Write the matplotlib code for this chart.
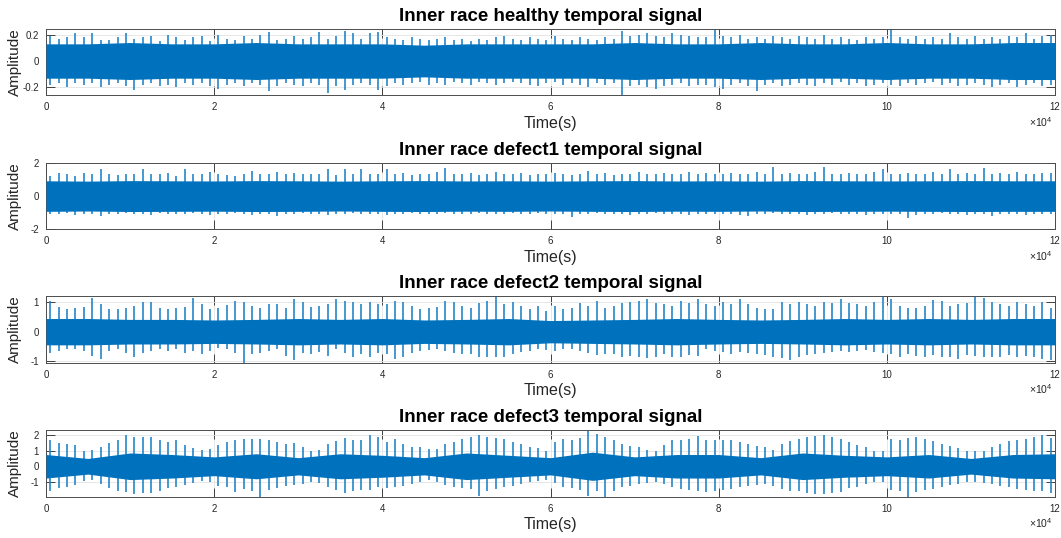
import matplotlib
matplotlib.use("Agg")
import matplotlib.pyplot as plt
import numpy as np

plt.rcParams["font.family"] = ["Liberation Sans", "DejaVu Sans"]
plt.rcParams["mathtext.default"] = "regular"

# per-bin (1000 samples) peak values, 120 bins per signal
hi_healthy = [
    0.19, 0.17, 0.18, 0.21, 0.18, 0.21, 0.16, 0.16, 0.18, 0.21,
    0.17, 0.18, 0.19, 0.15, 0.20, 0.18, 0.16, 0.18, 0.19, 0.15,
    0.20, 0.17, 0.16, 0.19, 0.17, 0.20, 0.22, 0.16, 0.17, 0.19,
    0.17, 0.18, 0.22, 0.17, 0.19, 0.23, 0.21, 0.17, 0.21, 0.22,
    0.18, 0.17, 0.16, 0.18, 0.17, 0.16, 0.17, 0.18, 0.16, 0.17,
    0.15, 0.17, 0.16, 0.18, 0.19, 0.17, 0.16, 0.18, 0.17, 0.16,
    0.19, 0.17, 0.16, 0.18, 0.17, 0.16, 0.18, 0.17, 0.23, 0.19,
    0.20, 0.21, 0.19, 0.18, 0.21, 0.20, 0.19, 0.18, 0.18, 0.24,
    0.19, 0.18, 0.20, 0.17, 0.18, 0.17, 0.19, 0.18, 0.17, 0.19,
    0.18, 0.17, 0.20, 0.17, 0.18, 0.17, 0.16, 0.18, 0.17, 0.18,
    0.24, 0.18, 0.17, 0.19, 0.17, 0.18, 0.17, 0.21, 0.18, 0.17,
    0.19, 0.17, 0.18, 0.17, 0.19, 0.18, 0.21, 0.17, 0.19, 0.20,
]
lo_healthy = [
    -0.18, -0.17, -0.20, -0.17, -0.18, -0.17, -0.20, -0.18, -0.17, -0.19,
    -0.22, -0.18, -0.17, -0.19, -0.18, -0.20, -0.17, -0.18, -0.17, -0.19,
    -0.21, -0.18, -0.17, -0.19, -0.17, -0.18, -0.23, -0.19, -0.17, -0.18,
    -0.19, -0.17, -0.18, -0.24, -0.19, -0.22, -0.18, -0.17, -0.18, -0.22,
    -0.19, -0.17, -0.18, -0.17, -0.16, -0.18, -0.17, -0.18, -0.16, -0.17,
    -0.18, -0.16, -0.17, -0.18, -0.17, -0.16, -0.17, -0.18, -0.19, -0.17,
    -0.16, -0.18, -0.17, -0.18, -0.20, -0.17, -0.18, -0.17, -0.26, -0.19,
    -0.18, -0.20, -0.21, -0.19, -0.18, -0.17, -0.19, -0.18, -0.18, -0.20,
    -0.21, -0.18, -0.17, -0.19, -0.23, -0.18, -0.17, -0.19, -0.18, -0.17,
    -0.18, -0.19, -0.17, -0.18, -0.16, -0.18, -0.17, -0.19, -0.18, -0.17,
    -0.18, -0.19, -0.17, -0.18, -0.17, -0.16, -0.18, -0.17, -0.19, -0.18,
    -0.17, -0.18, -0.20, -0.18, -0.17, -0.20, -0.18, -0.17, -0.19, -0.18,
]
hi_defect1 = [
    1.20, 1.40, 1.30, 1.20, 1.40, 1.30, 1.60, 1.30, 1.25, 1.35,
    1.30, 1.64, 1.30, 1.35, 1.40, 1.20, 1.60, 1.30, 1.35, 1.45,
    1.30, 1.25, 1.20, 1.30, 1.50, 1.35, 1.30, 1.45, 1.30, 1.40,
    1.30, 1.35, 1.35, 1.64, 1.25, 1.60, 1.30, 1.65, 1.30, 1.35,
    1.66, 1.30, 1.40, 1.25, 1.35, 1.30, 1.45, 1.70, 1.30, 1.35,
    1.40, 1.25, 1.30, 1.45, 1.35, 1.30, 1.40, 1.25, 1.35, 1.30,
    1.40, 1.30, 1.25, 1.35, 1.50, 1.30, 1.40, 1.25, 1.35, 1.30,
    1.45, 1.35, 1.30, 1.40, 1.30, 1.35, 1.45, 1.30, 1.40, 1.35,
    1.30, 1.40, 1.35, 1.30, 1.45, 1.35, 1.76, 1.30, 1.40, 1.35,
    1.30, 1.45, 1.76, 1.35, 1.30, 1.40, 1.35, 1.30, 1.45, 1.60,
    1.35, 1.30, 1.40, 1.35, 1.30, 1.45, 1.35, 1.60, 1.30, 1.40,
    1.35, 1.70, 1.30, 1.40, 1.35, 1.45, 1.30, 1.35, 1.40, 1.40,
]
lo_defect1 = [
    -1.05, -1.10, -1.00, -1.15, -1.05, -1.10, -1.20, -1.05, -1.10, -1.00,
    -1.10, -1.05, -1.15, -1.00, -1.10, -1.05, -1.10, -1.00, -1.05, -1.15,
    -1.05, -1.10, -1.00, -1.05, -1.15, -1.10, -1.05, -1.20, -1.10, -1.05,
    -1.00, -1.10, -1.05, -1.15, -1.05, -1.10, -1.00, -1.05, -1.10, -1.05,
    -1.15, -1.05, -1.10, -1.00, -1.05, -1.10, -1.05, -1.00, -1.10, -1.05,
    -1.10, -1.00, -1.05, -1.10, -1.05, -1.00, -1.10, -1.05, -1.00, -1.05,
    -1.10, -1.05, -1.25, -1.05, -1.10, -1.00, -1.05, -1.10, -1.05, -1.15,
    -1.05, -1.10, -1.00, -1.05, -1.10, -1.05, -1.15, -1.05, -1.10, -1.05,
    -1.10, -1.05, -1.15, -1.20, -1.05, -1.10, -1.00, -1.05, -1.10, -1.05,
    -1.15, -1.05, -1.10, -1.00, -1.05, -1.10, -1.05, -1.15, -1.10, -1.05,
    -1.10, -1.05, -1.30, -1.15, -1.10, -1.05, -1.00, -1.10, -1.05, -1.15,
    -1.10, -1.05, -1.20, -1.05, -1.10, -1.05, -1.15, -1.10, -1.05, -1.10,
]
hi_defect2 = [
    1.05, 0.85, 0.78, 0.82, 0.85, 1.16, 0.93, 0.76, 0.78, 0.82,
    0.88, 1.02, 1.02, 0.82, 0.78, 0.82, 0.85, 1.14, 0.93, 0.78,
    0.82, 0.90, 1.05, 1.02, 0.88, 0.82, 0.93, 0.93, 0.82, 1.10,
    1.02, 0.85, 0.88, 0.93, 1.10, 1.05, 1.00, 0.95, 1.00, 0.93,
    0.95, 1.05, 1.00, 0.88, 0.78, 0.82, 0.85, 1.05, 1.00, 0.88,
    0.82, 0.98, 1.05, 1.21, 0.93, 1.00, 0.88, 0.76, 0.88, 0.70,
    0.88, 0.78, 0.82, 0.98, 0.88, 1.05, 0.82, 0.88, 0.98, 1.00,
    1.05, 1.10, 0.98, 0.93, 0.88, 1.05, 0.98, 1.10, 0.93, 0.88,
    1.00, 0.93, 1.10, 0.93, 0.82, 0.78, 0.76, 1.00, 0.93, 1.00,
    0.93, 0.88, 1.00, 0.98, 1.12, 0.98, 0.93, 0.88, 1.00, 1.18,
    1.10, 0.88, 0.82, 0.82, 0.88, 1.08, 1.05, 0.88, 0.93, 0.98,
    1.19, 1.15, 1.00, 0.93, 0.88, 1.00, 0.93, 0.88, 1.00, 0.82,
]
lo_defect2 = [
    -0.72, -0.66, -0.60, -0.60, -0.66, -0.83, -0.92, -0.66, -0.60, -0.72,
    -0.85, -0.72, -0.66, -0.60, -0.66, -0.58, -0.72, -0.66, -0.77, -0.66,
    -0.55, -0.60, -0.74, -1.06, -0.77, -0.72, -0.66, -0.60, -0.83, -0.97,
    -0.72, -0.77, -0.70, -0.83, -0.60, -0.72, -0.85, -0.77, -0.85, -0.72,
    -0.77, -0.92, -0.85, -0.72, -0.66, -0.62, -0.60, -0.66, -0.72, -0.77,
    -0.75, -0.85, -0.88, -0.85, -0.85, -0.77, -0.70, -0.66, -0.60, -0.62,
    -0.66, -0.60, -0.58, -0.66, -0.72, -0.80, -0.77, -0.75, -0.85, -0.82,
    -0.88, -0.90, -0.85, -0.77, -0.85, -0.88, -0.80, -0.82, -0.60, -0.66,
    -0.70, -0.77, -0.70, -0.72, -0.77, -0.80, -0.85, -0.90, -0.97, -0.88,
    -0.80, -0.77, -0.72, -0.70, -0.66, -0.70, -0.66, -0.62, -0.70, -0.72,
    -0.77, -0.85, -0.77, -0.82, -0.85, -0.80, -0.85, -0.88, -0.92, -0.80,
    -0.82, -0.85, -0.88, -0.85, -0.80, -0.85, -0.82, -0.88, -0.94, -0.97,
]
hi_defect3 = [
    1.65, 1.48, 1.40, 1.33, 1.00, 1.05, 1.20, 1.48, 1.70, 1.97,
    1.90, 1.85, 1.90, 1.70, 1.55, 1.65, 1.33, 1.15, 1.06, 1.10,
    1.33, 1.55, 1.70, 1.75, 1.75, 1.75, 1.65, 1.55, 1.40, 1.48,
    1.20, 1.00, 1.06, 1.40, 1.60, 1.80, 1.70, 1.65, 1.97, 1.85,
    1.55, 1.75, 1.40, 1.25, 1.25, 1.10, 1.12, 1.40, 1.55, 1.75,
    1.85, 1.97, 1.90, 1.80, 1.75, 1.55, 1.45, 1.25, 1.15, 1.00,
    1.55, 1.75, 1.70, 1.80, 2.24, 2.05, 1.85, 1.65, 1.45, 1.30,
    1.25, 1.05, 1.00, 1.35, 1.65, 1.70, 1.75, 1.95, 1.65, 1.70,
    1.65, 1.70, 1.55, 1.45, 1.30, 1.20, 1.05, 1.45, 1.60, 1.75,
    1.90, 1.95, 2.00, 1.86, 1.75, 1.55, 1.35, 1.20, 1.00, 0.95,
    1.75, 1.70, 1.80, 1.86, 1.75, 1.60, 1.45, 1.30, 1.15, 1.00,
    0.95, 1.00, 1.25, 1.40, 1.60, 1.65, 1.75, 1.85, 1.97, 1.80,
]
lo_defect3 = [
    -1.56, -1.40, -1.30, -1.20, -0.95, -0.90, -1.10, -1.40, -1.55, -1.63,
    -1.78, -1.70, -1.73, -1.55, -1.40, -1.30, -1.20, -1.05, -0.95, -0.98,
    -1.25, -1.35, -1.63, -1.45, -1.55, -1.94, -1.50, -1.40, -1.25, -1.20,
    -1.10, -0.98, -1.05, -1.35, -1.50, -1.73, -1.56, -1.50, -1.50, -1.35,
    -1.40, -1.30, -1.25, -1.10, -1.00, -0.90, -1.00, -1.20, -1.30, -1.40,
    -1.45, -1.90, -1.55, -1.45, -1.35, -1.25, -1.10, -1.00, -0.95, -0.90,
    -1.05, -1.35, -1.40, -1.50, -1.90, -1.60, -1.94, -1.55, -1.35, -1.25,
    -1.10, -1.05, -1.00, -1.10, -1.35, -1.45, -1.50, -1.55, -1.63, -1.55,
    -1.50, -1.45, -1.35, -1.25, -1.20, -1.10, -1.25, -1.45, -1.55, -1.60,
    -1.70, -1.75, -1.80, -1.73, -1.63, -1.40, -1.30, -1.10, -1.00, -1.00,
    -1.50, -1.55, -1.94, -1.63, -1.50, -1.45, -1.35, -1.20, -1.10, -1.00,
    -0.98, -1.05, -1.15, -1.25, -1.35, -1.45, -1.50, -1.55, -1.60, -1.73,
]

# half-width of the dense core of each signal, read every 5000 samples
core_healthy = [0.13, 0.13, 0.14, 0.13, 0.13, 0.14, 0.13, 0.13, 0.13, 0.12, 0.13, 0.13, 0.13,
                0.13, 0.14, 0.13, 0.13, 0.14, 0.13, 0.13, 0.14, 0.13, 0.13, 0.14, 0.14]
core_defect1 = [0.92, 0.90, 0.93, 0.92, 0.91, 0.93, 0.92, 0.90, 0.92, 0.93, 0.91, 0.92, 0.90,
                0.92, 0.93, 0.91, 0.92, 0.90, 0.93, 0.92, 0.91, 0.92, 0.93, 0.92, 0.92]
core_defect2 = [0.45, 0.45, 0.42, 0.42, 0.40, 0.42, 0.45, 0.42, 0.45, 0.40, 0.42, 0.45, 0.38,
                0.40, 0.42, 0.45, 0.42, 0.40, 0.42, 0.45, 0.42, 0.45, 0.42, 0.45, 0.45]
core_defect3 = [0.75, 0.50, 0.85, 0.75, 0.60, 0.80, 0.55, 0.80, 0.70, 0.55, 0.85, 0.70, 0.55,
                0.90, 0.60, 0.75, 0.75, 0.55, 0.85, 0.70, 0.60, 0.75, 0.50, 0.75, 0.80]

titles = [
    "Inner race healthy temporal signal",
    "Inner race defect1 temporal signal",
    "Inner race defect2 temporal signal",
    "Inner race defect3 temporal signal",
]
ylims = [(-0.261, 0.242), (-2, 2), (-1.06, 1.21), (-1.94, 2.3)]
yticks = [[-0.2, 0, 0.2], [-2, 0, 2], [-1, 0, 1], [-1, 0, 1, 2]]
ytick_labels = [["-0.2", "0", "0.2"], ["-2", "0", "2"], ["-1", "0", "1"], ["-1", "0", "1", "2"]]
xtick_labels = ["0", "2", "4", "6", "8", "10", "12"]

signals = [
    (hi_healthy, lo_healthy, core_healthy),
    (hi_defect1, lo_defect1, core_defect1),
    (hi_defect2, lo_defect2, core_defect2),
    (hi_defect3, lo_defect3, core_defect3),
]

BLUE = "#0072BD"
SPIKE = "#2586cb"
DARK = "#262626"

fig = plt.figure(figsize=(10.61, 5.38), dpi=100)
bottoms = [0.8225, 0.5738, 0.3258, 0.0768]

for i, (hi, lo, core) in enumerate(signals):
    ax = fig.add_axes([0.0434, bottoms[i], 0.951, 0.1235])
    bins = (np.arange(len(hi)) + 0.5) * 1000
    xc = np.arange(len(core)) * 5000
    core = np.array(core)
    ax.vlines(bins, lo, hi, color=SPIKE, lw=1.2, zorder=2)
    ax.fill_between(xc, -core, core, color=BLUE, lw=0, zorder=3)

    ax.set_xlim(0, 120000)
    ax.set_ylim(*ylims[i])
    ax.set_xticks(np.arange(0, 120001, 20000))
    ax.set_xticklabels(xtick_labels)
    ax.set_yticks(yticks[i])
    ax.set_yticklabels(ytick_labels[i])
    ax.tick_params(direction="in", top=True, right=True, length=6.5, width=0.6,
                   colors=DARK, labelsize=7, pad=5)
    ax.grid(True, color="#e3e3e3", lw=0.6)
    ax.set_axisbelow(True)
    for s in ax.spines.values():
        s.set_color("#4d4d4d")
        s.set_linewidth(0.7)

    ax.set_title(titles[i], fontsize=13.5, fontweight="bold", pad=6)
    ax.set_xlabel("Time(s)", fontsize=11.5, color=DARK)
    ax.xaxis.set_label_coords(0.5, -0.31)
    ax.set_ylabel("Amplitude", fontsize=11, color=DARK)
    ax.yaxis.set_label_coords(-0.024, 0.5)
    ax.text(0.998, -0.47, r"$\times10^{4}$", transform=ax.transAxes, ha="right",
            va="baseline", fontsize=7.5, color=DARK)

fig.savefig("out.png", dpi=100)
